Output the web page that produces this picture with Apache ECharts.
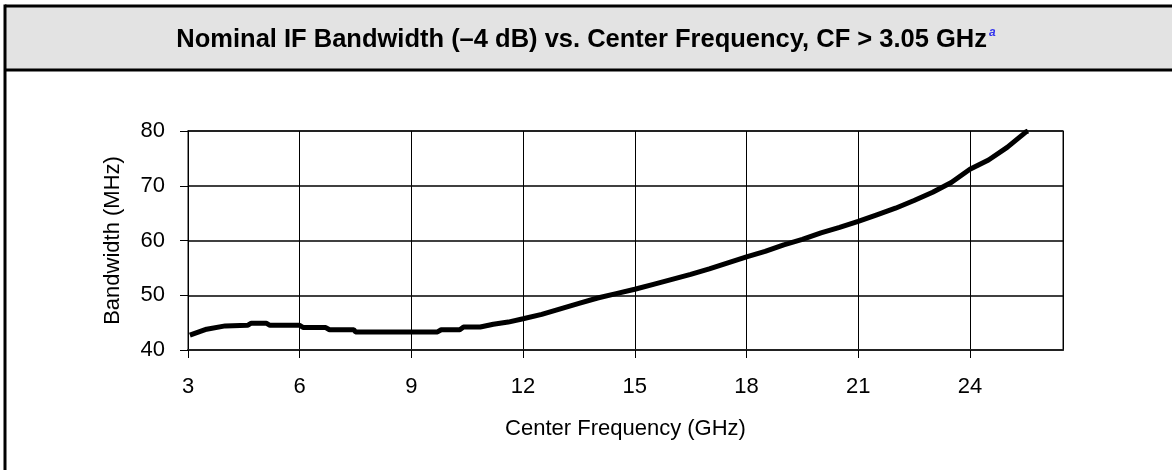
<!DOCTYPE html>
<html>
<head>
<meta charset="utf-8">
<script src="https://cdn.jsdelivr.net/npm/echarts@6/dist/echarts.min.js"></script>
<style>
  html, body { margin: 0; padding: 0; background: #fff; }
  #chart { width: 1172px; height: 470px; }
</style>
</head>
<body>
<div id="chart"></div>
<script>
// IF bandwidth curve
var freqGHz = [3.05, 3.5, 4.0, 4.6, 4.7, 5.1, 5.2, 6.0, 6.1, 6.7, 6.8, 7.45, 7.5, 9.7, 9.8, 10.3, 10.4, 10.85,
  11.2, 11.6, 12.0, 12.5, 13.0, 13.5, 14.0, 14.5, 15.0, 15.5, 16.0, 16.5, 17.0, 17.5, 18.0, 18.5, 19.0,
  19.5, 20.0, 20.5, 21.0, 21.5, 22.0, 22.5, 23.0, 23.5, 24.0, 24.5, 25.0, 25.5, 25.56];
var bwMHz = [42.7, 43.8, 44.4, 44.5, 44.9, 44.9, 44.5, 44.5, 44.1, 44.1, 43.7, 43.7, 43.3, 43.3, 43.7, 43.7, 44.2, 44.2,
  44.7, 45.1, 45.7, 46.5, 47.5, 48.5, 49.5, 50.3, 51.1, 52.0, 52.9, 53.8, 54.8, 55.9, 57.0, 58.0, 59.2,
  60.2, 61.4, 62.4, 63.5, 64.7, 65.9, 67.3, 68.8, 70.6, 73.0, 74.7, 77.0, 79.8, 80.0];
var xTicks = [3, 26.5, 3];   // min, max, interval
var yTicks = [40, 80, 10];

var pts = freqGHz.map(function (f, i) { return [f, bwMHz[i]]; });

var myChart = echarts.init(document.getElementById('chart'));
var font = 'Liberation Sans, Arial, sans-serif';

var option = {
  animation: false,
  textStyle: { fontFamily: font },
  title: {
    text: '{t|Nominal IF Bandwidth (\u20134 dB) vs. Center Frequency, CF > 3.05 GHz}{a|a}',
    left: 'center',
    top: 22,
    textStyle: {
      rich: {
        t: { fontFamily: font, fontWeight: 'bold', fontSize: 25.5, color: '#000' },
        a: { fontFamily: font, fontStyle: 'italic', fontWeight: 'bold', fontSize: 12, color: '#3333ee', padding: [0, 0, 14, 2] }
      }
    }
  },
  graphic: [
    { type: 'rect', shape: { x: 5, y: 6, width: 1172, height: 64 }, style: { fill: '#e3e3e3' }, z: -10 },
    { type: 'line', shape: { x1: 5, y1: 6, x2: 1172, y2: 6 }, style: { stroke: '#000', lineWidth: 3 } },
    { type: 'line', shape: { x1: 5, y1: 70, x2: 1172, y2: 70 }, style: { stroke: '#000', lineWidth: 3 } },
    { type: 'line', shape: { x1: 5, y1: 4.5, x2: 5, y2: 470 }, style: { stroke: '#000', lineWidth: 3 } }
  ],
  grid: {
    left: 188, right: 109, top: 131, bottom: 120,
    show: true, borderColor: '#888', borderWidth: 2, backgroundColor: '#fff'
  },
  xAxis: {
    type: 'value',
    min: xTicks[0], max: xTicks[1], interval: xTicks[2],
    name: 'Center Frequency (GHz)',
    nameLocation: 'middle',
    nameGap: 68,
    nameTextStyle: { fontSize: 22, color: '#000' },
    axisLine: { lineStyle: { color: '#222', width: 2 } },
    axisTick: { show: true, length: 8, lineStyle: { color: '#000', width: 1 } },
    axisLabel: { fontSize: 22, color: '#000', margin: 26, showMaxLabel: false },
    splitLine: { show: true, lineStyle: { color: '#000', width: 1 } }
  },
  yAxis: {
    type: 'value',
    min: yTicks[0], max: yTicks[1], interval: yTicks[2],
    name: 'Bandwidth (MHz)',
    nameLocation: 'middle',
    nameGap: 64,
    nameTextStyle: { fontSize: 22, color: '#000' },
    axisLine: { show: true, lineStyle: { color: '#000', width: 1 } },
    axisTick: { show: true, length: 8, lineStyle: { color: '#000', width: 1 } },
    axisLabel: { fontSize: 22, color: '#000', margin: 23 },
    splitLine: { show: true, lineStyle: { color: '#000', width: 1.5 } }
  },
  series: [{
    name: 'Bandwidth',
    type: 'line',
    data: pts,
    showSymbol: false,
    smooth: false,
    lineStyle: { color: '#000', width: 5 },
    clip: true
  }]
};
myChart.setOption(option);
</script>
</body>
</html>
